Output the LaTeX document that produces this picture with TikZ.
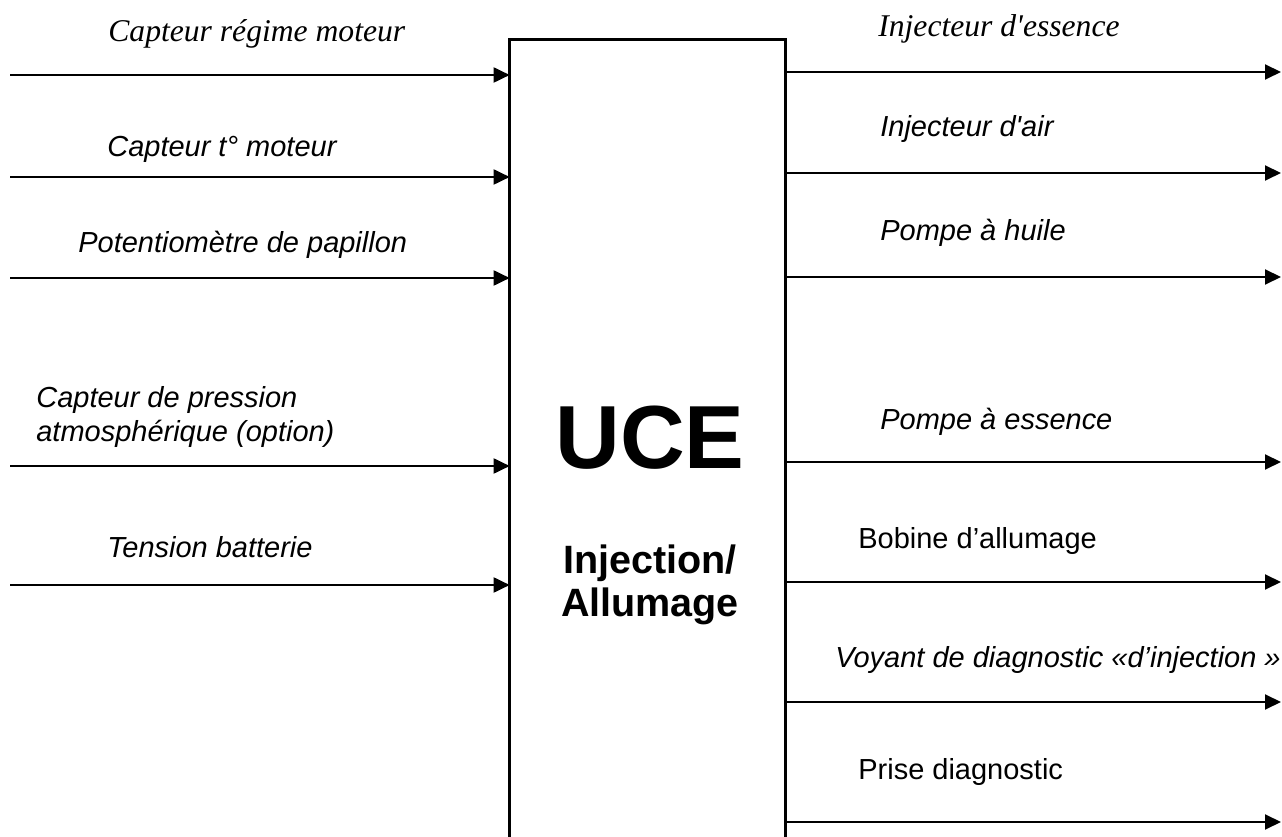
\documentclass[tikz,border=0pt]{standalone}
\usepackage{fontspec}
\setmainfont{Liberation Sans}
\newfontfamily\timesfont{Liberation Serif}
\usetikzlibrary{arrows.meta,positioning,calc}
\tikzset{
  ucebox/.style={rectangle,minimum width=5.5cm,minimum height=15.94cm,inner sep=0pt},
  boxline/.style={line width=1.7pt},
  arr/.style={-{Triangle[length=0.32cm,width=0.3cm]},line width=1.1pt},
  lbl/.style={anchor=base west,inner sep=0pt,font=\fontsize{16.5}{19}\selectfont\itshape},
  serlbl/.style={lbl,font=\fontsize{18}{21}\timesfont\itshape},
  uplbl/.style={lbl,font=\fontsize{16.5}{19}\selectfont},
  titlbl/.style={inner sep=0pt,align=center,font=\bfseries}
}
\begin{document}
\begin{tikzpicture}[x=0.02cm,y=-0.02cm]
  \useasboundingbox (0,0) rectangle (1282,837);

  % control unit
  \node[ucebox] (uce) at (647.5,438.5) {};
  \draw[boxline] (uce.south west) -- (uce.north west) -- (uce.north east) -- (uce.south east);
  \node[titlbl,font=\fontsize{51}{55}\selectfont\bfseries] (ucename) at (650,438) {UCE};
  \node[titlbl,font=\fontsize{22.5}{24.5}\selectfont\bfseries] (ucefn) at (650,585) {Injection/\\Allumage};

  % inputs
  \coordinate (in1) at (10,75);
  \coordinate (in2) at (10,177);
  \coordinate (in3) at (10,278);
  \coordinate (in4) at (10,466);
  \coordinate (in5) at (10,585);
  \draw[arr] (in1) -- (in1 -| uce.west);
  \draw[arr] (in2) -- (in2 -| uce.west);
  \draw[arr] (in3) -- (in3 -| uce.west);
  \draw[arr] (in4) -- (in4 -| uce.west);
  \draw[arr] (in5) -- (in5 -| uce.west);

  \node[serlbl] (regime) at (108,42) {Capteur régime moteur};
  \node[lbl] (tmot) at (107,157) {Capteur t° moteur};
  \node[lbl] (papil) at (78,253) {Potentiomètre de papillon};
  \node[lbl,anchor=west,align=left] (press) at (36,417) {Capteur de pression\\atmosphérique (option)};
  \node[lbl] (batt) at (107,558) {Tension batterie};

  % outputs
  \coordinate (out1) at (1281,72);
  \coordinate (out2) at (1281,173);
  \coordinate (out3) at (1281,277);
  \coordinate (out4) at (1281,462);
  \coordinate (out5) at (1281,582);
  \coordinate (out6) at (1281,702);
  \coordinate (out7) at (1281,822);
  \draw[arr] (out1 -| uce.east) -- (out1);
  \draw[arr] (out2 -| uce.east) -- (out2);
  \draw[arr] (out3 -| uce.east) -- (out3);
  \draw[arr] (out4 -| uce.east) -- (out4);
  \draw[arr] (out5 -| uce.east) -- (out5);
  \draw[arr] (out6 -| uce.east) -- (out6);
  \draw[arr] (out7 -| uce.east) -- (out7);

  \node[serlbl] (injess) at (878,37) {Injecteur d\textquotesingle essence};
  \node[lbl] (injair) at (880,137) {Injecteur d\textquotesingle air};
  \node[lbl] (huile) at (880,241) {Pompe à huile};
  \node[lbl] (pompess) at (880,430) {Pompe à essence};
  \node[uplbl] (bobine) at (858,549) {Bobine d’allumage};
  \node[lbl] (voyant) at (835,668) {Voyant de diagnostic «d’injection »};
  \node[uplbl] (prise) at (858,780) {Prise diagnostic};
\end{tikzpicture}
\end{document}
